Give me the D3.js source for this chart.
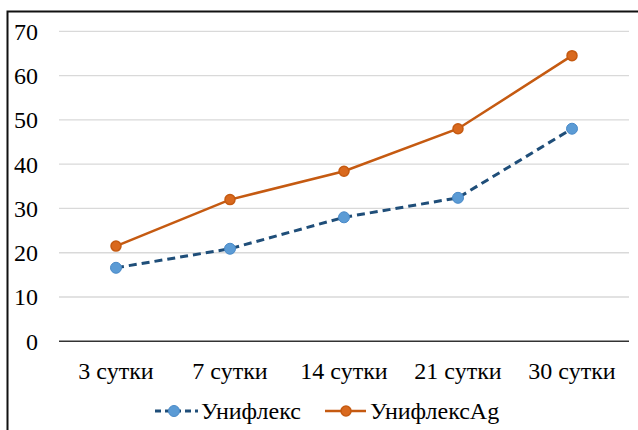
<!DOCTYPE html>
<html>
<head>
<meta charset="utf-8">
<script src="https://cdn.jsdelivr.net/npm/d3@7"></script>
<style>
  body { margin: 0; background: #fff; }
  svg { display: block; }
</style>
</head>
<body>
<svg width="638" height="430"></svg>
<script>
var categories = ["3 сутки", "7 сутки", "14 сутки", "21 сутки", "30 сутки"];
var uniflex = [16.6, 20.9, 28.0, 32.4, 48.0];
var uniflexAg = [21.5, 32.0, 38.4, 48.0, 64.5];
var yTicks = [0, 10, 20, 30, 40, 50, 60, 70];
var seriesNames = ["Унифлекс", "УнифлексAg"];

var svg = d3.select("svg");
var font = "Liberation Serif, Times New Roman, serif";
var fontSize = "24px";

// outer frame (cut off at right and bottom)
svg.append("rect")
  .attr("x", 7.5).attr("y", 11.5)
  .attr("width", 700).attr("height", 500)
  .attr("fill", "none")
  .attr("stroke", "#111")
  .attr("stroke-width", 2);

var xScale = d3.scaleBand().domain(categories).range([59, 629]);
var yScale = d3.scaleLinear().domain([0, 70]).range([341.3, 31.3]);

// gridlines
svg.append("g")
  .selectAll("line")
  .data(yTicks.filter(function (d) { return d > 0; }))
  .enter()
  .append("line")
  .attr("x1", 59).attr("x2", 629)
  .attr("y1", function (d) { return yScale(d); })
  .attr("y2", function (d) { return yScale(d); })
  .attr("stroke", "#d9d9d9")
  .attr("stroke-width", 1.3);

// y axis labels
var yAxis = d3.axisLeft(yScale).tickValues(yTicks).tickSize(0).tickPadding(0);
var gy = svg.append("g").attr("transform", "translate(38,0)").call(yAxis)
  .attr("font-family", font).attr("font-size", fontSize);
gy.select(".domain").remove();
gy.selectAll("text")
  .attr("dy", "0.33em")
  .attr("fill", "#000");

// x axis line
svg.append("line")
  .attr("x1", 59).attr("x2", 629)
  .attr("y1", yScale(0)).attr("y2", yScale(0))
  .attr("stroke", "#333")
  .attr("stroke-width", 1.5);

var xAxis = d3.axisBottom(xScale).tickSize(0).tickPadding(0);
var gx = svg.append("g").attr("transform", "translate(0,378.5)").call(xAxis)
  .attr("font-family", font).attr("font-size", fontSize);
gx.select(".domain").remove();
gx.selectAll("text")
  .attr("dy", 0)
  .attr("y", 0)
  .attr("fill", "#000");

function cx(d, i) { return xScale(categories[i]) + xScale.bandwidth() / 2; }

var line = d3.line()
  .x(function (d, i) { return cx(d, i); })
  .y(function (d) { return yScale(d); });

// Унифлекс (dashed blue)
svg.append("path")
  .datum(uniflex)
  .attr("d", line)
  .attr("fill", "none")
  .attr("stroke", "#1F4E79")
  .attr("stroke-width", 3)
  .attr("stroke-dasharray", "8,5");

svg.append("g")
  .selectAll("circle")
  .data(uniflex)
  .enter()
  .append("circle")
  .attr("cx", cx)
  .attr("cy", function (d) { return yScale(d); })
  .attr("r", 5.5)
  .attr("fill", "#5B9BD5")
  .attr("stroke", "#4a8ac8")
  .attr("stroke-width", 1);

// УнифлексAg (solid orange)
svg.append("path")
  .datum(uniflexAg)
  .attr("d", line)
  .attr("fill", "none")
  .attr("stroke", "#C55A11")
  .attr("stroke-width", 2.5);

svg.append("g")
  .selectAll("circle")
  .data(uniflexAg)
  .enter()
  .append("circle")
  .attr("cx", cx)
  .attr("cy", function (d) { return yScale(d); })
  .attr("r", 5)
  .attr("fill", "#D9691E")
  .attr("stroke", "#C55A11")
  .attr("stroke-width", 1.5);

// legend
var legY = 411;
var leg = svg.append("g").attr("font-family", font).attr("font-size", fontSize);
leg.append("line")
  .attr("x1", 155).attr("x2", 198)
  .attr("y1", legY).attr("y2", legY)
  .attr("stroke", "#1F4E79").attr("stroke-width", 3)
  .attr("stroke-dasharray", "6,4");
leg.append("circle")
  .attr("cx", 174).attr("cy", legY).attr("r", 5.5)
  .attr("fill", "#5B9BD5").attr("stroke", "#4a8ac8");
leg.append("text")
  .attr("x", 201).attr("y", 419)
  .text(seriesNames[0]);

leg.append("line")
  .attr("x1", 325).attr("x2", 366)
  .attr("y1", legY).attr("y2", legY)
  .attr("stroke", "#C55A11").attr("stroke-width", 2.5);
leg.append("circle")
  .attr("cx", 346).attr("cy", legY).attr("r", 5)
  .attr("fill", "#D9691E").attr("stroke", "#C55A11").attr("stroke-width", 1.5);
leg.append("text")
  .attr("x", 370).attr("y", 419)
  .text(seriesNames[1]);
</script>
</body>
</html>
